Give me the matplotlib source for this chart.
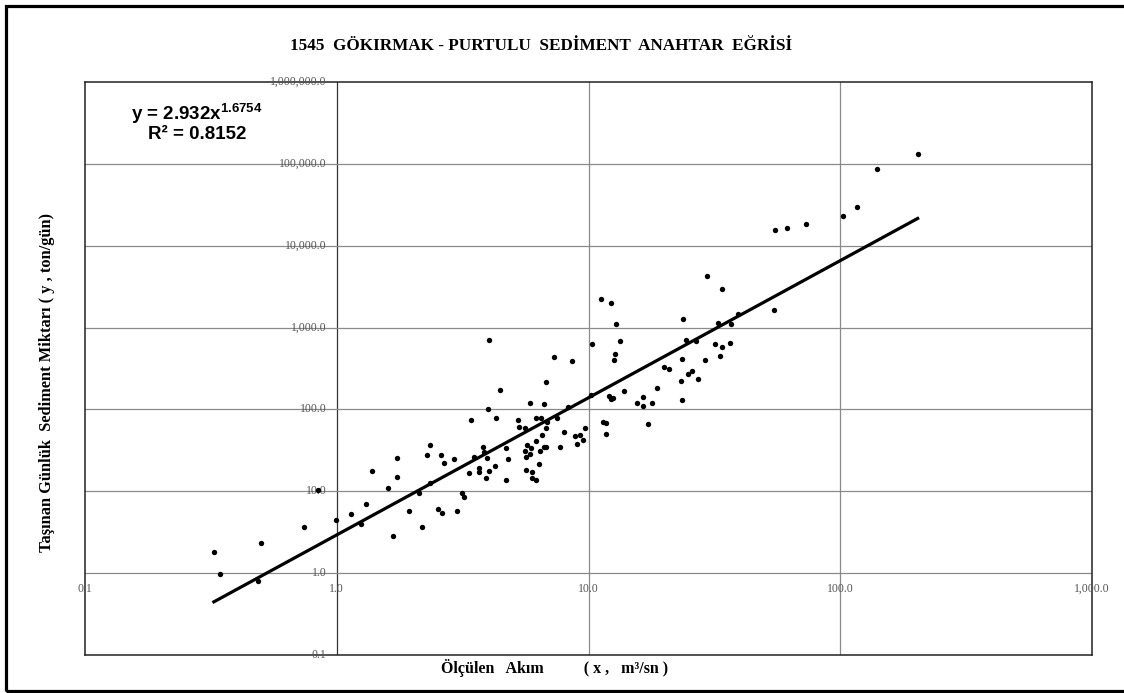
import matplotlib
matplotlib.use("Agg")
import matplotlib.pyplot as plt
from matplotlib.patches import Rectangle
from matplotlib.transforms import offset_copy
import numpy as np

# measured flow (m3/s) and daily sediment load (ton/day)
akim = [0.325, 0.343, 0.50, 0.487, 0.742, 0.843, 0.99, 1.14, 1.25, 1.31, 1.38, 1.60, 1.73, 1.73, 1.67,
        4.02, 7.30, 6.78, 4.44, 3.98, 5.88, 6.64, 3.41, 4.29, 5.24, 5.32, 5.60, 6.16, 6.50, 6.85, 6.81,
        7.50, 8.29, 8.02,
        2.34, 2.28, 2.59, 2.66, 2.92, 3.81, 3.50, 3.95, 3.84, 4.69, 4.79, 5.72, 5.93, 5.58, 5.63, 5.84,
        6.17, 6.52, 6.39, 6.66, 6.81, 7.69, 6.35, 5.65, 5.99, 5.99, 6.21, 3.35, 3.68, 3.68, 4.04, 4.24,
        3.93, 4.69, 2.12, 2.34, 3.13, 3.20, 1.93, 2.53, 2.63, 2.99, 2.18,
        29.5, 34.0, 11.2, 12.3, 12.9, 23.7, 32.7, 10.3, 13.4, 24.3, 26.7, 31.8, 33.8, 36.4, 8.60, 12.7,
        12.6, 23.5, 28.9, 33.2, 20.0, 20.8, 25.8, 24.9, 27.2, 23.3, 18.7, 13.8, 10.2, 12.1, 12.3, 12.5,
        15.6, 16.4, 16.5, 17.9, 23.6, 11.4, 11.7, 17.2, 8.82, 9.23, 9.66, 9.04, 9.51, 11.7,
        203, 140, 117, 103, 72.9, 61.5, 54.9, 54.4, 39.3, 36.7]
sediment = [1.83, 0.97, 2.35, 0.81, 3.69, 10.4, 4.49, 5.32, 3.98, 6.98, 17.5, 11.0, 25.7, 14.8, 2.84,
            704, 433, 218, 173, 100, 119, 115, 74.8, 79.1, 74.8, 61.4, 59.2, 79.1, 79.1, 69.5, 59.7,
            77.8, 108, 52.5,
            36.7, 27.7, 27.7, 22.1, 25.0, 34.4, 26.2, 25.5, 30.4, 33.7, 24.6, 36.7, 33.5, 31.3, 26.0, 28.5,
            41.4, 49.1, 31.3, 34.7, 35.0, 34.7, 21.5, 18.2, 17.2, 14.4, 13.7, 16.6, 19.1, 17.3, 17.7, 20.3,
            14.5, 13.6, 9.60, 12.7, 9.44, 8.43, 5.78, 6.02, 5.38, 5.69, 3.63,
            4300, 2980, 2230, 1980, 1100, 1260, 1145, 634, 690, 704, 679, 634, 583, 653, 393, 471,
            401, 409, 401, 453, 332, 314, 297, 273, 237, 222, 181, 166, 151, 147, 133, 139,
            121, 111, 140, 119, 129, 70.7, 68.2, 65.7, 47.3, 49.1, 59.2, 37.5, 42.3, 50.0,
            133000, 85600, 29900, 23200, 18500, 16600, 15700, 1620, 1460, 1100]

# power trendline y = a * x^b
a, b = 2.932, 1.6754
r2 = 0.8152

x_ticks = [0.1, 1, 10, 100, 1000]
x_tick_labels = ['0.1', '1.0', '10.0', '100.0', '1,000.0']
y_ticks = [0.1, 1, 10, 100, 1000, 10000, 100000, 1000000]
y_tick_labels = ['0.1', '1.0', '10.0', '100.0', '1,000.0', '10,000.0', '100,000.0', '1,000,000.0']

plt.rcParams['mathtext.fontset'] = 'custom'
plt.rcParams['mathtext.rm'] = 'Liberation Sans'
plt.rcParams['mathtext.bf'] = 'Liberation Sans:bold'

W, H = 1124, 693
fig = plt.figure(figsize=(W / 100, H / 100), dpi=100)
ax = fig.add_axes([85 / W, 1 - 655 / H, (1092 - 85) / W, (655 - 82) / H])
ax.set_xscale('log')
ax.set_yscale('log')
ax.set_xlim(0.1, 1000)
ax.set_ylim(0.1, 1e6)
ax.tick_params(which='both', length=0, labelbottom=False, labelleft=False)
for sp in ax.spines.values():
    sp.set_color('#222222')
    sp.set_linewidth(1.1)

# gridlines
for v in x_ticks[1:-1]:
    ax.axvline(v, color='#333333' if v == 1 else '#8a8a8a', lw=0.9, zorder=1)
for v in y_ticks[1:-1]:
    ax.axhline(v, color='#8a8a8a', lw=0.9, zorder=1)

# tick labels sit along the axes crossing at (1, 1)
tick_font = dict(family='Liberation Serif', fontsize=8.5, color='#555555')
ytr = offset_copy(ax.transData, fig=fig, x=-10, y=0, units='dots')
for v, lab in zip(y_ticks, y_tick_labels):
    ax.text(1, v, lab, transform=ytr, ha='right', va='center', **tick_font)
xtr = offset_copy(ax.transData, fig=fig, x=0, y=-16, units='dots')
for v, lab in zip(x_ticks, x_tick_labels):
    ax.text(v, 1, lab, transform=xtr, ha='center', va='center', **tick_font)

ax.scatter(akim, sediment, s=15, c='black', linewidths=0, zorder=3)

xs = np.geomspace(min(akim), max(akim), 100)
ax.plot(xs, a * xs ** b, color='black', lw=2.3, zorder=4)

eq_font = dict(family='Liberation Sans', fontweight='bold', fontsize=13.5, ha='center', va='baseline')
fig.text(197 / W, 1 - 120 / H, 'y = %.3fx$^{\\mathbf{%.4f}}$' % (a, b), **eq_font)
fig.text(197 / W, 1 - 139 / H, 'R² = %.4f' % r2, **eq_font)

fig.text(541 / W, 1 - 46 / H, '1545  GÖKIRMAK - PURTULU  SEDİMENT  ANAHTAR  EĞRİSİ',
         family='Liberation Serif', fontweight='bold', fontsize=12.3, ha='center', va='center')
fig.text(441 / W, 1 - 668 / H, 'Ölçülen   Akım          ( x ,   m³/sn )',
         family='Liberation Serif', fontweight='bold', fontsize=11.5, ha='left', va='center')
fig.text(47 / W, 1 - 382 / H, 'Taşınan Günlük  Sediment Miktarı ( y , ton/gün)',
         family='Liberation Serif', fontweight='bold', fontsize=11.8, ha='center', va='center',
         rotation=90)

# outer chart frame (right edge falls outside the image)
frame = Rectangle((6.5 / W, 2 / H), (1140 - 6.5) / W, (687.5 - 2) / H, transform=fig.transFigure,
                  fill=False, ec='black', lw=2.3, clip_on=False)
fig.add_artist(frame)

fig.savefig('out.png', dpi=100)
